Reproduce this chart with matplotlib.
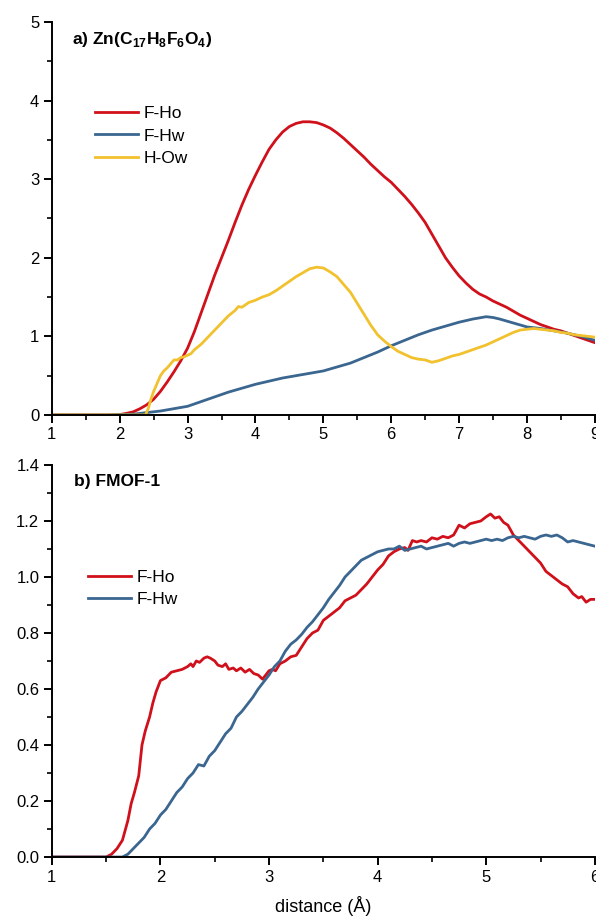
import matplotlib
matplotlib.use("Agg")
import matplotlib.pyplot as plt
from matplotlib.ticker import MultipleLocator, FormatStrFormatter

plt.rcParams["font.family"] = ["Liberation Sans", "DejaVu Sans"]
plt.rcParams["mathtext.fontset"] = "custom"
plt.rcParams["mathtext.rm"] = "Liberation Sans"
plt.rcParams["mathtext.bf"] = "Liberation Sans:bold"

RED = "#d0101a"
BLUE = "#3a6690"
YELLOW = "#f2c12e"

# panel a) Zn(C17H8F6O4)
a_fho_x = [1.0, 1.9, 2.0, 2.1, 2.2, 2.3, 2.4, 2.5, 2.6, 2.7, 2.8, 2.9, 3.0, 3.1, 3.2, 3.3, 3.4, 3.5,
           3.6, 3.7, 3.8, 3.9, 4.0, 4.1, 4.2, 4.3, 4.4, 4.5, 4.6, 4.7, 4.8, 4.9, 5.0, 5.1, 5.2, 5.3,
           5.4, 5.5, 5.6, 5.7, 5.8, 5.9, 6.0, 6.1, 6.2, 6.3, 6.4, 6.5, 6.6, 6.7, 6.8, 6.9, 7.0, 7.1,
           7.2, 7.3, 7.4, 7.5, 7.6, 7.7, 7.8, 7.9, 8.0, 8.1, 8.2, 8.3, 8.4, 8.5, 8.6, 8.7, 8.8, 8.9, 9.0]
a_fho_y = [0.0, 0.0, 0.005, 0.02, 0.04, 0.08, 0.13, 0.2, 0.3, 0.42, 0.55, 0.69, 0.85, 1.06, 1.3, 1.54,
           1.78, 2.0, 2.22, 2.45, 2.67, 2.87, 3.05, 3.22, 3.38, 3.5, 3.6, 3.67, 3.71, 3.73, 3.73, 3.72,
           3.69, 3.65, 3.59, 3.52, 3.44, 3.36, 3.28, 3.19, 3.11, 3.03, 2.96, 2.87, 2.78, 2.68, 2.57,
           2.45, 2.3, 2.15, 2.0, 1.88, 1.77, 1.68, 1.6, 1.54, 1.5, 1.45, 1.41, 1.37, 1.32, 1.27, 1.23,
           1.19, 1.15, 1.12, 1.09, 1.07, 1.04, 1.01, 0.98, 0.95, 0.92]

a_fhw_x = [1.0, 1.8, 2.0, 2.2, 2.4, 2.6, 2.8, 3.0, 3.2, 3.4, 3.6, 3.8, 4.0, 4.2, 4.4, 4.6, 4.8, 5.0,
           5.2, 5.4, 5.6, 5.8, 6.0, 6.2, 6.4, 6.6, 6.8, 7.0, 7.2, 7.4, 7.5, 7.6, 7.8, 8.0, 8.2, 8.4,
           8.6, 8.8, 9.0]
a_fhw_y = [0.0, 0.0, 0.005, 0.01, 0.03, 0.05, 0.08, 0.11, 0.17, 0.23, 0.29, 0.34, 0.39, 0.43, 0.47,
           0.5, 0.53, 0.56, 0.61, 0.66, 0.73, 0.8, 0.88, 0.95, 1.02, 1.08, 1.13, 1.18, 1.22, 1.25,
           1.24, 1.22, 1.17, 1.12, 1.1, 1.07, 1.04, 1.0, 0.95]

a_how_x = [1.0, 2.38, 2.42, 2.46, 2.5, 2.55, 2.6, 2.65, 2.7, 2.75, 2.8, 2.85, 2.9, 2.95, 3.0, 3.05,
           3.1, 3.2, 3.3, 3.4, 3.5, 3.6, 3.7, 3.75, 3.8, 3.9, 4.0, 4.1, 4.2, 4.3, 4.4, 4.5, 4.6, 4.7,
           4.8, 4.9, 5.0, 5.1, 5.2, 5.3, 5.4, 5.5, 5.6, 5.7, 5.8, 5.9, 6.0, 6.1, 6.2, 6.3, 6.4, 6.5,
           6.6, 6.7, 6.8, 6.9, 7.0, 7.1, 7.2, 7.3, 7.4, 7.5, 7.6, 7.7, 7.8, 7.9, 8.0, 8.1, 8.2, 8.3,
           8.4, 8.5, 8.6, 8.7, 8.8, 8.9, 9.0]
a_how_y = [0.0, 0.0, 0.08, 0.2, 0.3, 0.4, 0.5, 0.56, 0.6, 0.65, 0.7, 0.7, 0.73, 0.74, 0.76, 0.78,
           0.83, 0.9, 0.99, 1.08, 1.17, 1.26, 1.33, 1.38, 1.37, 1.43, 1.46, 1.5, 1.53, 1.58, 1.64,
           1.7, 1.76, 1.81, 1.86, 1.88, 1.87, 1.82, 1.76, 1.66, 1.56, 1.42, 1.28, 1.14, 1.02, 0.94,
           0.87, 0.81, 0.77, 0.73, 0.71, 0.7, 0.67, 0.69, 0.72, 0.75, 0.77, 0.8, 0.83, 0.86, 0.89,
           0.93, 0.97, 1.01, 1.05, 1.08, 1.09, 1.1, 1.09, 1.08, 1.07, 1.05, 1.04, 1.02, 1.01, 1.0, 0.99]

# panel b) FMOF-1
b_fho_x = [1.0, 1.5, 1.55, 1.6, 1.65, 1.7, 1.73, 1.76, 1.8, 1.83, 1.86, 1.9, 1.93, 1.96, 2.0, 2.05,
           2.1, 2.15, 2.2, 2.25, 2.28, 2.3, 2.33, 2.36, 2.4, 2.43, 2.46, 2.5, 2.53, 2.57, 2.6, 2.63,
           2.67, 2.7, 2.74, 2.78, 2.82, 2.86, 2.9, 2.94, 2.97, 3.0, 3.03, 3.06, 3.1, 3.15, 3.2, 3.25,
           3.3, 3.35, 3.4, 3.45, 3.5, 3.55, 3.6, 3.65, 3.7, 3.75, 3.8, 3.85, 3.9, 3.95, 4.0, 4.05,
           4.1, 4.15, 4.2, 4.25, 4.28, 4.32, 4.36, 4.4, 4.45, 4.5, 4.55, 4.6, 4.65, 4.7, 4.75, 4.8,
           4.85, 4.9, 4.95, 5.0, 5.04, 5.08, 5.12, 5.16, 5.2, 5.25, 5.3, 5.35, 5.4, 5.45, 5.5, 5.55,
           5.6, 5.65, 5.7, 5.75, 5.8, 5.85, 5.88, 5.92, 5.96, 6.0]
b_fho_y = [0.0, 0.0, 0.01, 0.03, 0.06, 0.13, 0.19, 0.23, 0.29, 0.4, 0.45, 0.5, 0.55, 0.59, 0.63, 0.64,
           0.66, 0.665, 0.67, 0.68, 0.69, 0.68, 0.7, 0.695, 0.71, 0.715, 0.71, 0.7, 0.685, 0.68, 0.69,
           0.67, 0.675, 0.665, 0.675, 0.66, 0.67, 0.655, 0.65, 0.635, 0.65, 0.665, 0.67, 0.665, 0.69,
           0.7, 0.715, 0.72, 0.75, 0.78, 0.8, 0.81, 0.845, 0.86, 0.875, 0.89, 0.915, 0.925, 0.935,
           0.955, 0.975, 1.0, 1.025, 1.045, 1.075, 1.09, 1.1, 1.105, 1.095, 1.13, 1.125, 1.13, 1.125,
           1.14, 1.135, 1.145, 1.14, 1.15, 1.185, 1.175, 1.19, 1.195, 1.2, 1.215, 1.225, 1.21, 1.215,
           1.195, 1.185, 1.15, 1.13, 1.11, 1.09, 1.07, 1.05, 1.02, 1.005, 0.99, 0.975, 0.965, 0.94,
           0.925, 0.93, 0.91, 0.92, 0.92]

b_fhw_x = [1.0, 1.65, 1.7, 1.75, 1.8, 1.85, 1.9, 1.95, 2.0, 2.05, 2.1, 2.15, 2.2, 2.25, 2.3, 2.35,
           2.4, 2.45, 2.5, 2.55, 2.6, 2.65, 2.7, 2.75, 2.8, 2.85, 2.9, 2.95, 3.0, 3.05, 3.1, 3.15, 3.2,
           3.25, 3.3, 3.35, 3.4, 3.45, 3.5, 3.55, 3.6, 3.65, 3.7, 3.75, 3.8, 3.85, 3.9, 3.95, 4.0,
           4.05, 4.1, 4.15, 4.2, 4.25, 4.3, 4.35, 4.4, 4.45, 4.5, 4.55, 4.6, 4.65, 4.7, 4.75, 4.8,
           4.85, 4.9, 4.95, 5.0, 5.05, 5.1, 5.15, 5.2, 5.25, 5.3, 5.35, 5.4, 5.45, 5.5, 5.55, 5.6,
           5.65, 5.7, 5.75, 5.8, 5.85, 5.9, 5.95, 6.0]
b_fhw_y = [0.0, 0.0, 0.01, 0.03, 0.05, 0.07, 0.1, 0.12, 0.15, 0.17, 0.2, 0.23, 0.25, 0.28, 0.3, 0.33,
           0.325, 0.36, 0.38, 0.41, 0.44, 0.46, 0.5, 0.52, 0.545, 0.57, 0.6, 0.625, 0.65, 0.68, 0.7,
           0.735, 0.76, 0.775, 0.795, 0.82, 0.84, 0.865, 0.89, 0.92, 0.945, 0.97, 1.0, 1.02, 1.04,
           1.06, 1.07, 1.08, 1.09, 1.095, 1.1, 1.1, 1.11, 1.095, 1.1, 1.105, 1.11, 1.1, 1.105, 1.11,
           1.115, 1.12, 1.11, 1.12, 1.125, 1.12, 1.125, 1.13, 1.135, 1.13, 1.135, 1.13, 1.14, 1.145,
           1.14, 1.145, 1.14, 1.135, 1.145, 1.15, 1.145, 1.15, 1.14, 1.125, 1.13, 1.125, 1.12, 1.115,
           1.11]


def style_axis(ax, xmajor, xminor, ymajor, yminor):
    for side in ("top", "right"):
        ax.spines[side].set_visible(False)
    for side in ("left", "bottom"):
        ax.spines[side].set_linewidth(1.4)
    ax.xaxis.set_major_locator(MultipleLocator(xmajor))
    ax.xaxis.set_minor_locator(MultipleLocator(xminor))
    ax.yaxis.set_major_locator(MultipleLocator(ymajor))
    ax.yaxis.set_minor_locator(MultipleLocator(yminor))
    ax.tick_params(which="major", direction="out", length=6, width=1.4, labelsize=12, pad=3)
    ax.tick_params(which="minor", direction="out", length=3.5, width=1.2)


fig = plt.figure(figsize=(5.96, 9.16), dpi=100)
ax1 = fig.add_axes([0.087, 0.547, 0.911, 0.429])
ax2 = fig.add_axes([0.087, 0.0644, 0.911, 0.428])

legend_kw = dict(loc="center left", frameon=False, fontsize=12.5, handlelength=2.5,
                 handletextpad=0.3, labelspacing=0.43, borderpad=0, borderaxespad=0)

ax1.plot(a_fho_x, a_fho_y, color=RED, lw=2.0, label="F-Ho")
ax1.plot(a_fhw_x, a_fhw_y, color=BLUE, lw=2.0, label="F-Hw")
ax1.plot(a_how_x, a_how_y, color=YELLOW, lw=2.0, label="H-Ow")
ax1.set_xlim(1, 9)
ax1.set_ylim(0, 5)
style_axis(ax1, 1, 0.5, 1, 0.5)
ax1.text(0.037, 0.955, r"a) Zn(C$_\mathbf{17}$H$_\mathbf{8}$F$_\mathbf{6}$O$_\mathbf{4}$)",
         transform=ax1.transAxes, fontsize=12.5, fontweight="bold", va="center", ha="left")
ax1.legend(bbox_to_anchor=(0.079, 0.71), **legend_kw)

ax2.plot(b_fho_x, b_fho_y, color=RED, lw=2.0, label="F-Ho")
ax2.plot(b_fhw_x, b_fhw_y, color=BLUE, lw=2.0, label="F-Hw")
ax2.set_xlim(1, 6)
ax2.set_ylim(0, 1.4)
style_axis(ax2, 1, 0.5, 0.2, 0.1)
ax2.yaxis.set_major_formatter(FormatStrFormatter("%.1f"))
ax2.text(0.04, 0.957, "b) FMOF-1", transform=ax2.transAxes, fontsize=12.5,
         fontweight="bold", va="center", ha="left")
ax2.legend(bbox_to_anchor=(0.066, 0.685), **legend_kw)
ax2.set_xlabel("distance (Å)", fontsize=13, labelpad=8)

fig.savefig("out.png", dpi=100)
plt.close(fig)
